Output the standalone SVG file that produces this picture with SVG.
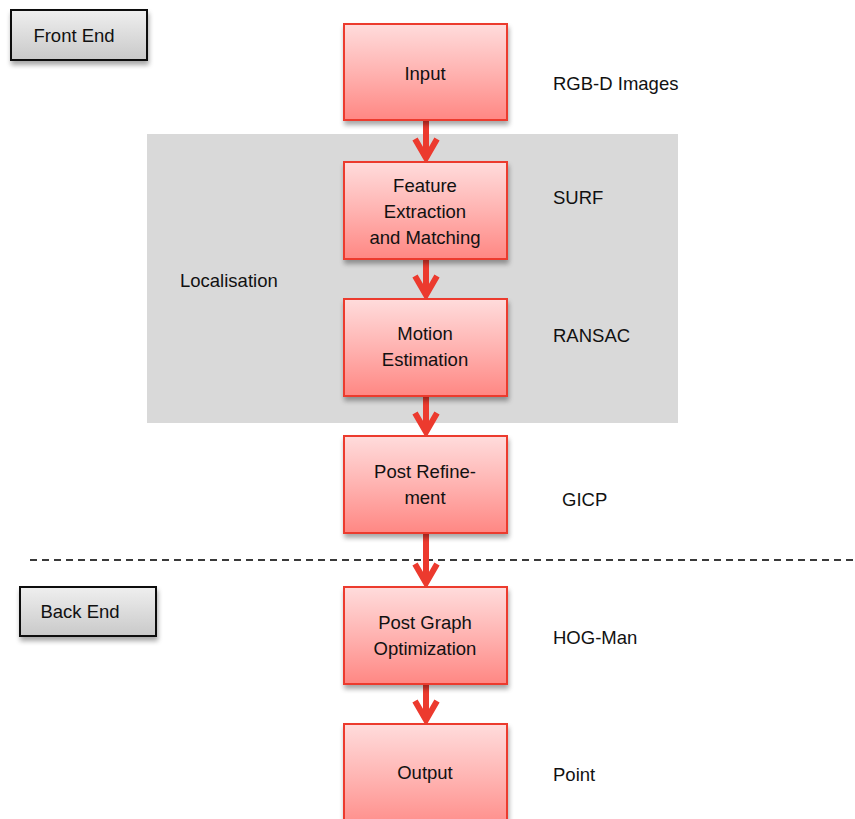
<svg xmlns="http://www.w3.org/2000/svg" width="855" height="819" viewBox="0 0 855 819">
  <defs>
    <linearGradient id="redFill" x1="0" y1="0" x2="0" y2="1">
      <stop offset="0" stop-color="#ffdcdc"/>
      <stop offset="0.5" stop-color="#ffb3b1"/>
      <stop offset="1" stop-color="#ff8783"/>
    </linearGradient>
    <linearGradient id="greyFill" x1="0" y1="0" x2="0" y2="1">
      <stop offset="0" stop-color="#efefef"/>
      <stop offset="1" stop-color="#c9c9c9"/>
    </linearGradient>
    <filter id="shadow" x="-20%" y="-20%" width="140%" height="150%">
      <feGaussianBlur in="SourceAlpha" stdDeviation="2.5"/>
      <feOffset dx="1" dy="4" result="b"/>
      <feComponentTransfer><feFuncA type="linear" slope="0.35"/></feComponentTransfer>
      <feMerge><feMergeNode/><feMergeNode in="SourceGraphic"/></feMerge>
    </filter>
  </defs>
  <style>
    text { font-family: "Liberation Sans", Arial, sans-serif; font-size: 18.5px; fill: #111; }
    .mid { text-anchor: middle; }
    .step { fill: url(#redFill); stroke: #ec3a2e; stroke-width: 2; }
    .tag { fill: url(#greyFill); stroke: #111; stroke-width: 2; }
    .arrow { fill: none; stroke: #ec3a2e; stroke-width: 6; }
  </style>

  <rect id="localisation-region" x="147" y="134" width="531" height="289" fill="#d9d9d9"/>

  <line id="divider" x1="30" y1="560" x2="855" y2="560" stroke="#3a3a3a" stroke-width="2" stroke-dasharray="7,5"/>

  <g id="front-end">
    <rect class="tag" x="11" y="10" width="136" height="50" filter="url(#shadow)"/>
    <text x="74" y="42" class="mid">Front End</text>
  </g>
  <g id="back-end">
    <rect class="tag" x="20" y="587" width="136" height="49" filter="url(#shadow)"/>
    <text x="80" y="618" class="mid">Back End</text>
  </g>

  <g id="connectors">
    <path class="arrow" d="M426 120 V158 M415 139 L426 158 L437 139"/>
    <path class="arrow" d="M426 259 V295 M415 276 L426 295 L437 276"/>
    <path class="arrow" d="M426 396 V432 M415 413 L426 432 L437 413"/>
    <path class="arrow" d="M426 533 V583 M415 564 L426 583 L437 564"/>
    <path class="arrow" d="M426 684 V720 M415 701 L426 720 L437 701"/>
  </g>

  <g id="input">
    <rect class="step" x="344" y="24" width="163" height="96" filter="url(#shadow)"/>
    <text x="425" y="80" class="mid">Input</text>
  </g>
  <g id="feature-extraction">
    <rect class="step" x="344" y="162" width="163" height="97" filter="url(#shadow)"/>
    <text x="425" y="192" class="mid">Feature</text>
    <text x="425" y="218" class="mid">Extraction</text>
    <text x="425" y="244" class="mid">and Matching</text>
  </g>
  <g id="motion-estimation">
    <rect class="step" x="344" y="299" width="163" height="97" filter="url(#shadow)"/>
    <text x="425" y="340" class="mid">Motion</text>
    <text x="425" y="366" class="mid">Estimation</text>
  </g>
  <g id="post-refinement">
    <rect class="step" x="344" y="436" width="163" height="97" filter="url(#shadow)"/>
    <text x="425" y="478" class="mid">Post Refine-</text>
    <text x="425" y="504" class="mid">ment</text>
  </g>
  <g id="post-graph-optimization">
    <rect class="step" x="344" y="587" width="163" height="97" filter="url(#shadow)"/>
    <text x="425" y="629" class="mid">Post Graph</text>
    <text x="425" y="655" class="mid">Optimization</text>
  </g>
  <g id="output">
    <rect class="step" x="344" y="724" width="163" height="110" filter="url(#shadow)"/>
    <text x="425" y="779" class="mid">Output</text>
  </g>

  <g id="annotations">
    <text x="180" y="287">Localisation</text>
    <text x="553" y="90">RGB-D Images</text>
    <text x="553" y="204">SURF</text>
    <text x="553" y="342">RANSAC</text>
    <text x="562" y="506">GICP</text>
    <text x="553" y="644">HOG-Man</text>
    <text x="553" y="781">Point</text>
  </g>
</svg>
